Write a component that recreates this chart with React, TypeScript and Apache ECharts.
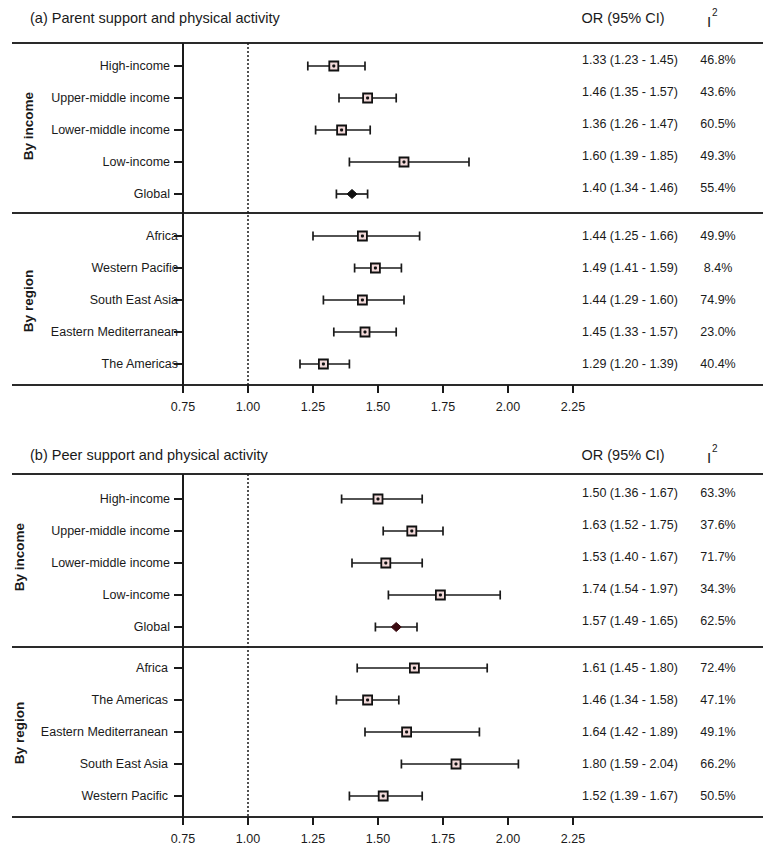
import React, { useEffect, useRef } from 'react';
import * as echarts from 'echarts';

// ---------- data ----------
const incomeCats = ['High-income', 'Upper-middle income', 'Lower-middle income', 'Low-income', 'Global'];
const parentRegionCats = ['Africa', 'Western Pacific', 'South East Asia', 'Eastern Mediterranean', 'The Americas'];
const peerRegionCats = ['Africa', 'The Americas', 'Eastern Mediterranean', 'South East Asia', 'Western Pacific'];

// (a) parent support – reported values (also plotted)
const parentIncomeOR = [1.33, 1.46, 1.36, 1.6, 1.4];
const parentIncomeLo = [1.23, 1.35, 1.26, 1.39, 1.34];
const parentIncomeHi = [1.45, 1.57, 1.47, 1.85, 1.46];
const parentIncomeI2 = [46.8, 43.6, 60.5, 49.3, 55.4];

const parentRegionOR = [1.44, 1.49, 1.44, 1.45, 1.29];
const parentRegionLo = [1.25, 1.41, 1.29, 1.33, 1.2];
const parentRegionHi = [1.66, 1.59, 1.6, 1.57, 1.39];
const parentRegionI2 = [49.9, 8.4, 74.9, 23.0, 40.4];

// (b) peer support – reported values
const peerIncomeOR = [1.5, 1.63, 1.53, 1.74, 1.57];
const peerIncomeLo = [1.36, 1.52, 1.4, 1.54, 1.49];
const peerIncomeHi = [1.67, 1.75, 1.67, 1.97, 1.65];
const peerIncomeI2 = [63.3, 37.6, 71.7, 34.3, 62.5];

const peerRegionOR = [1.61, 1.46, 1.64, 1.8, 1.52];
const peerRegionLo = [1.45, 1.34, 1.42, 1.59, 1.39];
const peerRegionHi = [1.8, 1.58, 1.89, 2.04, 1.67];
const peerRegionI2 = [72.4, 47.1, 49.1, 66.2, 50.5];

// (b) peer support by region – positions as drawn in the figure
const peerRegionPlotOR = [1.64, 1.46, 1.61, 1.8, 1.52];
const peerRegionPlotLo = [1.42, 1.34, 1.45, 1.59, 1.39];
const peerRegionPlotHi = [1.92, 1.58, 1.89, 2.04, 1.67];

const X_MIN = 0.75;
const X_MAX = 2.25;
const X_INTERVAL = 0.25;
const NULL_OR = 1.0;

// ---------- styling / layout ----------
const FONT = "'Liberation Sans', Arial, sans-serif";
const INK = '#1a1a1a';
const LABEL_SIZE = 12.5;
const GRID_LEFT = 183;
const GRID_WIDTH = 390;
const LINE_L = 12;
const LINE_R = 763;
const GRID_H = 160;

const xPix = (v: number) => GRID_LEFT + ((v - X_MIN) / (X_MAX - X_MIN)) * GRID_WIDTH;

type Block = {
  cats: string[];
  or: number[];
  lo: number[];
  hi: number[];
  i2: number[];
  pOr: number[];
  pLo: number[];
  pHi: number[];
  top: number;
  showX: boolean;
  labelMargin: number;
  textVAlign: string;
  diamond: string;
};

const blocks: Block[] = [
  { cats: incomeCats, or: parentIncomeOR, lo: parentIncomeLo, hi: parentIncomeHi, i2: parentIncomeI2, pOr: parentIncomeOR, pLo: parentIncomeLo, pHi: parentIncomeHi, top: 50, showX: false, labelMargin: 13, textVAlign: 'bottom', diamond: '#111111' },
  { cats: parentRegionCats, or: parentRegionOR, lo: parentRegionLo, hi: parentRegionHi, i2: parentRegionI2, pOr: parentRegionOR, pLo: parentRegionLo, pHi: parentRegionHi, top: 220, showX: true, labelMargin: 5, textVAlign: 'middle', diamond: '#111111' },
  { cats: incomeCats, or: peerIncomeOR, lo: peerIncomeLo, hi: peerIncomeHi, i2: peerIncomeI2, pOr: peerIncomeOR, pLo: peerIncomeLo, pHi: peerIncomeHi, top: 483, showX: false, labelMargin: 13, textVAlign: 'bottom', diamond: '#3a0a10' },
  { cats: peerRegionCats, or: peerRegionOR, lo: peerRegionLo, hi: peerRegionHi, i2: peerRegionI2, pOr: peerRegionPlotOR, pLo: peerRegionPlotLo, pHi: peerRegionPlotHi, top: 652, showX: true, labelMargin: 15, textVAlign: 'middle', diamond: '#3a0a10' },
];

function buildOption() {
  const grid: any[] = [];
  const xAxis: any[] = [];
  const yAxis: any[] = [];
  const series: any[] = [];

  blocks.forEach((b, g) => {
    grid.push({ left: GRID_LEFT, width: GRID_WIDTH, top: b.top, height: GRID_H, containLabel: false });
    xAxis.push({
      gridIndex: g,
      type: 'value',
      min: X_MIN,
      max: X_MAX,
      interval: X_INTERVAL,
      show: b.showX,
      offset: 5,
      axisLine: { show: false },
      axisTick: { show: true, length: 8, lineStyle: { color: INK, width: 2 } },
      axisLabel: {
        formatter: (v: number) => v.toFixed(2),
        margin: 15,
        fontSize: 12.5,
        fontFamily: FONT,
        color: INK,
      },
      splitLine: { show: false },
    });
    yAxis.push({
      gridIndex: g,
      type: 'category',
      data: b.cats,
      inverse: true,
      axisLine: { show: false },
      axisTick: { show: true, alignWithLabel: true, length: 9, lineStyle: { color: INK, width: 2 } },
      axisLabel: { margin: b.labelMargin, fontSize: LABEL_SIZE, fontFamily: FONT, color: INK },
      splitLine: { show: false },
    });
    yAxis.push({
      gridIndex: g,
      type: 'category',
      data: b.cats,
      inverse: true,
      position: 'right',
      axisLine: { show: false },
      axisTick: { show: false },
      axisLabel: {
        margin: 57,
        align: 'center',
        verticalAlign: b.textVAlign,
        fontSize: LABEL_SIZE,
        fontFamily: FONT,
        color: INK,
        formatter: (_v: string, i: number) =>
          `${b.or[i].toFixed(2)} (${b.lo[i].toFixed(2)} - ${b.hi[i].toFixed(2)})`,
      },
    });
    yAxis.push({
      gridIndex: g,
      type: 'category',
      data: b.cats,
      inverse: true,
      position: 'right',
      axisLine: { show: false },
      axisTick: { show: false },
      axisLabel: {
        margin: 145,
        align: 'center',
        verticalAlign: b.textVAlign,
        fontSize: LABEL_SIZE,
        fontFamily: FONT,
        color: INK,
        formatter: (_v: string, i: number) => `${b.i2[i].toFixed(1)}%`,
      },
    });

    series.push({
      type: 'custom',
      xAxisIndex: g,
      yAxisIndex: g * 3,
      encode: { x: [0, 1, 2], y: 3 },
      data: b.pOr.map((v, i) => [v, b.pLo[i], b.pHi[i], i]),
      renderItem: (_params: any, api: any) => {
        const idx = api.value(3);
        const pO = api.coord([api.value(0), idx]);
        const pL = api.coord([api.value(1), idx]);
        const pH = api.coord([api.value(2), idx]);
        const y = pO[1];
        const cap = 4.5;
        const ls = { stroke: INK, lineWidth: 1.7 };
        const children: any[] = [
          { type: 'line', shape: { x1: pL[0], y1: y, x2: pH[0], y2: y }, style: ls },
          { type: 'line', shape: { x1: pL[0], y1: y - cap, x2: pL[0], y2: y + cap }, style: ls },
          { type: 'line', shape: { x1: pH[0], y1: y - cap, x2: pH[0], y2: y + cap }, style: ls },
        ];
        if (b.cats[idx] === 'Global') {
          const x = pO[0];
          children.push({
            type: 'polygon',
            shape: { points: [[x - 5, y], [x, y - 4.5], [x + 5, y], [x, y + 4.5]] },
            style: { fill: b.diamond, stroke: b.diamond, lineWidth: 1 },
          });
        } else {
          children.push({
            type: 'rect',
            shape: { x: pO[0] - 4.5, y: y - 4.5, width: 9, height: 9 },
            style: { fill: '#f2d9d9', stroke: '#111', lineWidth: 1.8 },
          });
          children.push({ type: 'circle', shape: { cx: pO[0], cy: y, r: 1.6 }, style: { fill: '#111' } });
        }
        return { type: 'group', children };
      },
    });
  });

  const hLine = (y: number) => ({
    type: 'line',
    shape: { x1: LINE_L, y1: y, x2: LINE_R, y2: y },
    style: { stroke: '#2a2a2a', lineWidth: 2 },
    silent: true,
  });
  const vLine = (y1: number, y2: number) => ({
    type: 'line',
    shape: { x1: GRID_LEFT, y1, x2: GRID_LEFT, y2 },
    style: { stroke: INK, lineWidth: 2 },
    silent: true,
  });
  const nullLine = (y1: number, y2: number) => ({
    type: 'line',
    shape: { x1: xPix(NULL_OR), y1, x2: xPix(NULL_OR), y2 },
    style: { stroke: INK, lineWidth: 1.5, lineDash: [2, 2] },
    silent: true,
  });
  const txt = (text: string, x: number, y: number, size: number, align = 'left', weight = 'normal', rotation = 0) => ({
    type: 'text',
    x,
    y,
    rotation,
    style: {
      text,
      fontSize: size,
      fontFamily: FONT,
      fontWeight: weight,
      fill: INK,
      align,
      verticalAlign: 'middle',
      textAlign: align,
      textVerticalAlign: 'middle',
    },
    silent: true,
  });

  const graphic: any[] = [
    hLine(43), hLine(213), hLine(385),
    hLine(474), hLine(647), hLine(817),
    vLine(43, 385), vLine(474, 817),
    nullLine(43, 385), nullLine(474, 817),
    txt('(a) Parent support and physical activity', 30, 18, 14.5),
    txt('OR (95% CI)', 623, 18, 14.5, 'center'),
    txt('I', 709, 21, 15, 'center'),
    txt('2', 712, 12, 10, 'left'),
    txt('By income', 28, 126, 13.5, 'center', 'bold', Math.PI / 2),
    txt('By region', 28, 301, 13.5, 'center', 'bold', Math.PI / 2),
    txt('(b) Peer support and physical activity', 30, 455, 14.5),
    txt('OR (95% CI)', 623, 455, 14.5, 'center'),
    txt('I', 709, 457, 15, 'center'),
    txt('2', 712, 448, 10, 'left'),
    txt('By income', 19, 557, 13.5, 'center', 'bold', Math.PI / 2),
    txt('By region', 19, 733, 13.5, 'center', 'bold', Math.PI / 2),
  ];

  return {
    animation: false,
    backgroundColor: '#ffffff',
    grid,
    xAxis,
    yAxis,
    series,
    graphic,
  };
}

export default function App() {
  const ref = useRef<HTMLDivElement>(null);
  useEffect(() => {
    if (!ref.current) return;
    const chart = echarts.init(ref.current, undefined, { renderer: 'svg' });
    chart.setOption(buildOption() as any);
    return () => chart.dispose();
  }, []);
  return (
    <div
      ref={ref}
      style={{ position: 'absolute', left: 0, top: 0, width: 783, height: 861, background: '#fff' }}
    />
  );
}
